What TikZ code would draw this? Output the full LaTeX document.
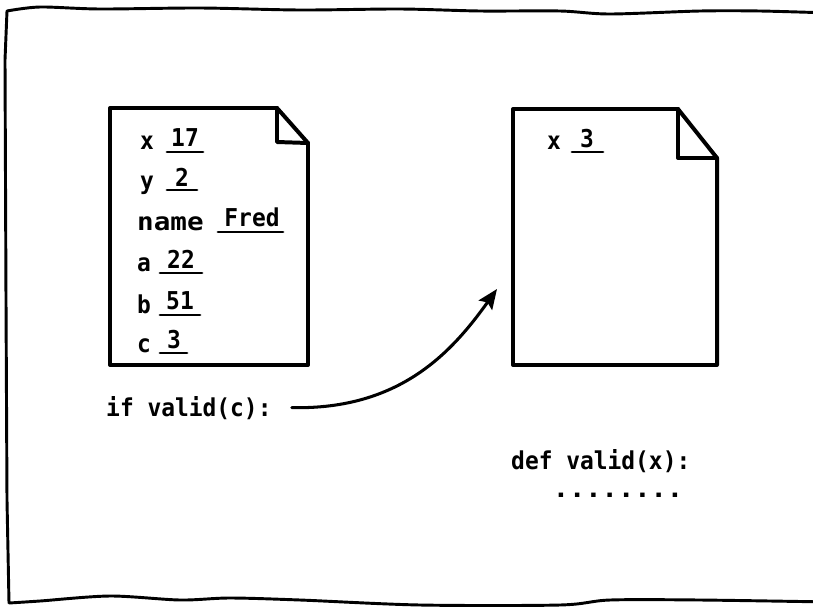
\documentclass[tikz,border=0pt]{standalone}
\usepackage{fontspec}
\setmonofont[FakeStretch=0.93]{DejaVu Sans Mono}
\usetikzlibrary{arrows.meta}
\begin{document}
\begin{tikzpicture}[x=0.03cm,y=-0.03cm,
  frameline/.style={line width=2.5pt,line join=round,line cap=round},
  docline/.style={line width=3.4pt,line join=round,line cap=round},
  uline/.style={line width=2.4pt,line cap=round},
  hand/.style={font=\ttfamily\bfseries\fontsize{21}{25}\selectfont,inner sep=0pt},
  lab/.style={hand,anchor=base west},
  val/.style={hand,anchor=base},
  conn/.style={line width=2.6pt,line cap=round,-{Stealth[length=17pt,width=14pt,inset=3pt]}}]
\useasboundingbox (0,0) rectangle (813,611);
% outer frame
\draw[frameline] plot[smooth,tension=0.5] coordinates {(830,13) (760,11) (700,11) (610,14) (560,11) (480,11) (400,9) (300,10) (200,8) (100,9) (40,7) (7,11)}
  -- (5,60) -- (6,300) -- (7,500) -- (9,603)
  plot[smooth,tension=0.5] coordinates {(9,603) (40,601) (110,596) (180,600) (230,598) (300,600) (420,605) (560,605) (610,600) (700,600) (830,602)};
% left document
\draw[docline] (110,108) -- (277,108) -- (308,143) -- (308,365) -- (110,365) -- cycle;
\draw[docline] (277,108) -- (277,142) -- (308,143);
% right document
\draw[docline] (513,109) -- (678,109) -- (717,158) -- (717,365) -- (513,365) -- cycle;
\draw[docline] (678,109) -- (678,158) -- (717,158);
% left document contents
\node[lab] (lx) at (140,149) {x};
\node[val] (vx) at (185,146) {17};
\draw[uline] (167,152) -- (203,152);
\node[lab] (ly) at (140,189) {y};
\node[val] (vy) at (182,186) {2};
\draw[uline] (167,190) -- (197,190);
\node[lab,font=\ttfamily\bfseries\fontsize{21}{25}\selectfont\addfontfeature{FakeStretch=1.12}] (lname) at (137,230) {name};
\node[val] (vname) at (252,226) {Fred};
\draw[uline] (218,232) -- (283,232);
\node[lab] (la) at (137,271) {a};
\node[val] (va) at (181,268) {22};
\draw[uline] (160,273) -- (202,273);
\node[lab] (lb) at (137,313) {b};
\node[val] (vb) at (180,309) {51};
\draw[uline] (160,315) -- (200,315);
\node[lab] (lc) at (137,352) {c};
\node[val] (vc) at (174,348) {3};
\draw[uline] (160,353) -- (187,353);
% right document contents
\node[lab] (rx) at (547,149) {x};
\node[val] (rvx) at (587,147) {3};
\draw[uline] (572,152) -- (603,152);
% call and definition
\node[lab] (call) at (106,416) {if valid(c):};
\node[lab] (def) at (511,469) {def valid(x):};
\node[val,font=\ttfamily\bfseries\fontsize{21}{25}\selectfont\addfontfeature{FakeStretch=1.1}] (dots) at (618,497) {........};
\coordinate (tip) at (497,289);
\draw[conn] ([xshift=0.6cm]call.east) .. controls (400,410) and (452,352) .. (tip);
\end{tikzpicture}
\end{document}
